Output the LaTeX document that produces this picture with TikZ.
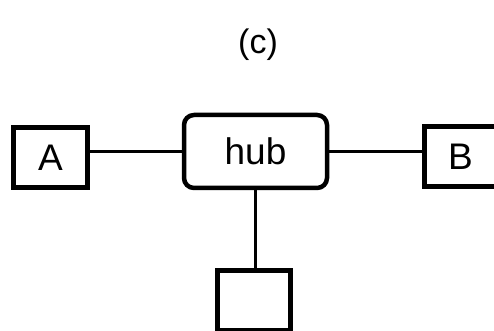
\documentclass[tikz,border=0pt]{standalone}
\usepackage{fontspec}
\setmainfont{Liberation Sans}

\begin{document}
\begin{tikzpicture}[x=1pt,y=1pt,
  box/.style={draw=black,line width=5pt,fill=white,inner sep=0pt,
    minimum width=74pt,minimum height=60pt,font=\fontsize{37}{44}\selectfont},
  hubbox/.style={box,line width=4.5pt,rounded corners=10pt,
    minimum width=143pt,minimum height=73pt},
  link/.style={draw=black,line width=3pt}]
\clip (0,0) rectangle (494,331);
\node[font=\fontsize{34}{40}\selectfont] (title) at (258,286) {(c)};
\node[hubbox] (hub) at (255.5,179.5) {hub};
\node[box] (boxa) at (50.5,173.5) {A};
\node[box,minimum width=72pt] (boxb) at (460.5,174) {B};
\node[box,minimum width=73pt] (boxc) at (254,30) {};
\path[link] (hub.west) -- (hub.west -| boxa.east);
\path[link] (hub.east) -- (hub.east -| boxb.west);
\path[link] (hub.south) -- (hub.south |- boxc.north);
\end{tikzpicture}
\end{document}
